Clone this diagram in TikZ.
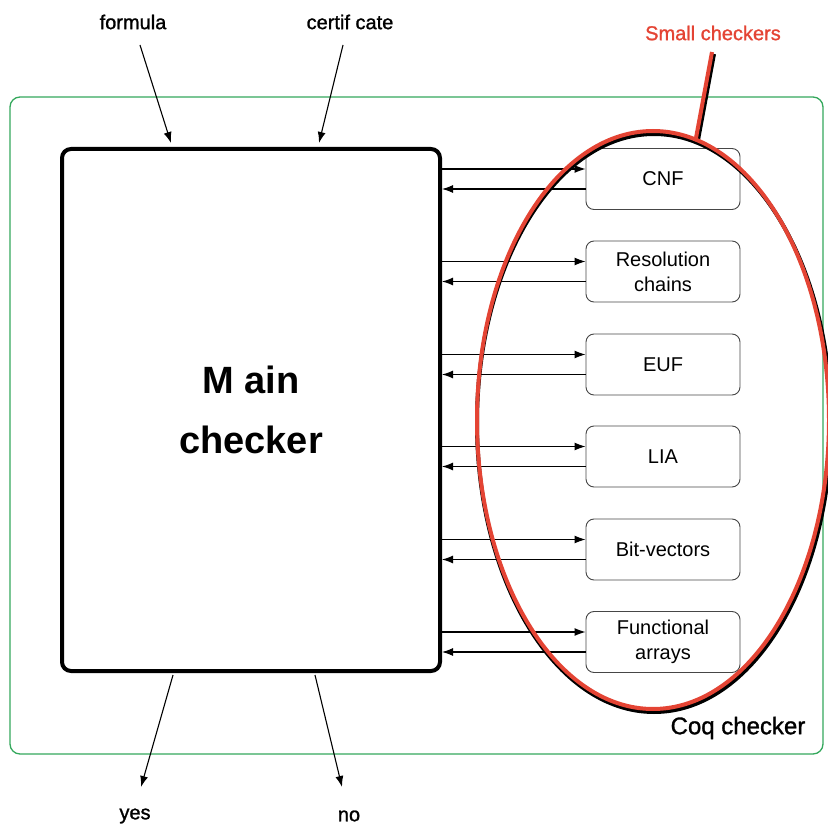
\documentclass[tikz,border=0pt]{standalone}
\usepackage{fontspec}
\setmainfont{Liberation Sans}
\newfontfamily\heavyfont{Liberation Sans}[FakeBold=1.2]
\usetikzlibrary{arrows.meta,calc}
\definecolor{frameGreen}{RGB}{52,168,92}
\definecolor{redLine}{RGB}{228,68,52}
\definecolor{boxGray}{RGB}{70,70,70}
\tikzset{
  arr/.style={-{Latex[length=11pt,width=8pt]}, line width=1.1pt},
  smallbox/.style={draw=boxGray, line width=0.9pt, rounded corners=8pt, minimum width=154pt, minimum height=61pt, align=center, font=\fontsize{20}{24}\selectfont, inner sep=0pt},
  mainbox/.style={draw=black, line width=4pt, rounded corners=9pt, minimum width=378pt, minimum height=522pt, align=center, font=\fontsize{38}{60}\selectfont\bfseries, inner sep=0pt},
  lab/.style={font=\heavyfont\fontsize{20}{24}\selectfont, inner sep=0pt},
}
\begin{document}
\begin{tikzpicture}[x=1pt,y=-1pt]
\useasboundingbox (0,0) rectangle (828,826);
% green frame
\draw[frameGreen, line width=1.3pt, rounded corners=10pt] (10,97) rectangle (823,754);
\node[font=\heavyfont\fontsize{24}{28}\selectfont, inner sep=0pt] (coq) at (738,728) {Coq checker};
% main checker
\node[mainbox] (main) at (251,410) {M ain\\checker};
% small checkers
\node[smallbox] (cnf) at (663,179) {CNF};
\node[smallbox, font=\fontsize{20}{25}\selectfont] (res) at (663,271.5) {Resolution\\chains};
\node[smallbox] (euf) at (663,364.5) {EUF};
\node[smallbox] (lia) at (663,456.5) {LIA};
\node[smallbox] (bv) at (663,549.5) {Bit-vectors};
\node[smallbox, font=\fontsize{20}{25}\selectfont] (fa) at (663,642) {Functional\\arrays};
% connectors main <-> small checkers
\foreach \b in {cnf,res,euf,lia,bv,fa}{
  \coordinate (\b-in) at ([yshift=10pt]\b.west);
  \coordinate (\b-out) at ([yshift=-10pt]\b.west);
  \draw[arr] (main.east |- \b-in) -- (\b-in);
  \draw[arr] (\b-out) -- (main.east |- \b-out);
}
% inputs / outputs
\node[lab] (formula) at (133,22) {formula};
\node[lab] (cert) at (350,22) {certif cate};
\node[lab] (yes) at (135,816) {yes};
\node[lab] (no) at (349,816) {no};
\coordinate (fs) at (140,45);
\coordinate (fe) at (171,143);
\coordinate (cs) at (343,45);
\coordinate (ce) at (319,143);
\coordinate (ys) at (173,675);
\coordinate (ye) at (141,787);
\coordinate (ns) at (315,675);
\coordinate (ne) at (342,787);
\draw[arr] (fs) -- (fe);
\draw[arr] (cs) -- (ce);
\draw[arr] (ys) -- (ye);
\draw[arr] (ns) -- (ne);
% small checkers ellipse with shadow
\draw[black, line width=4pt] (654,423) ellipse [x radius=177, y radius=289];
\draw[black, line width=4pt] (714,54) -- (698,140);
\draw[redLine, line width=4pt] (653,420) ellipse [x radius=176, y radius=289];
\draw[redLine, line width=4pt] (712,52) -- (696,138);
\node[lab, text=redLine] (small) at (713,33) {Small checkers};
\end{tikzpicture}
\end{document}
